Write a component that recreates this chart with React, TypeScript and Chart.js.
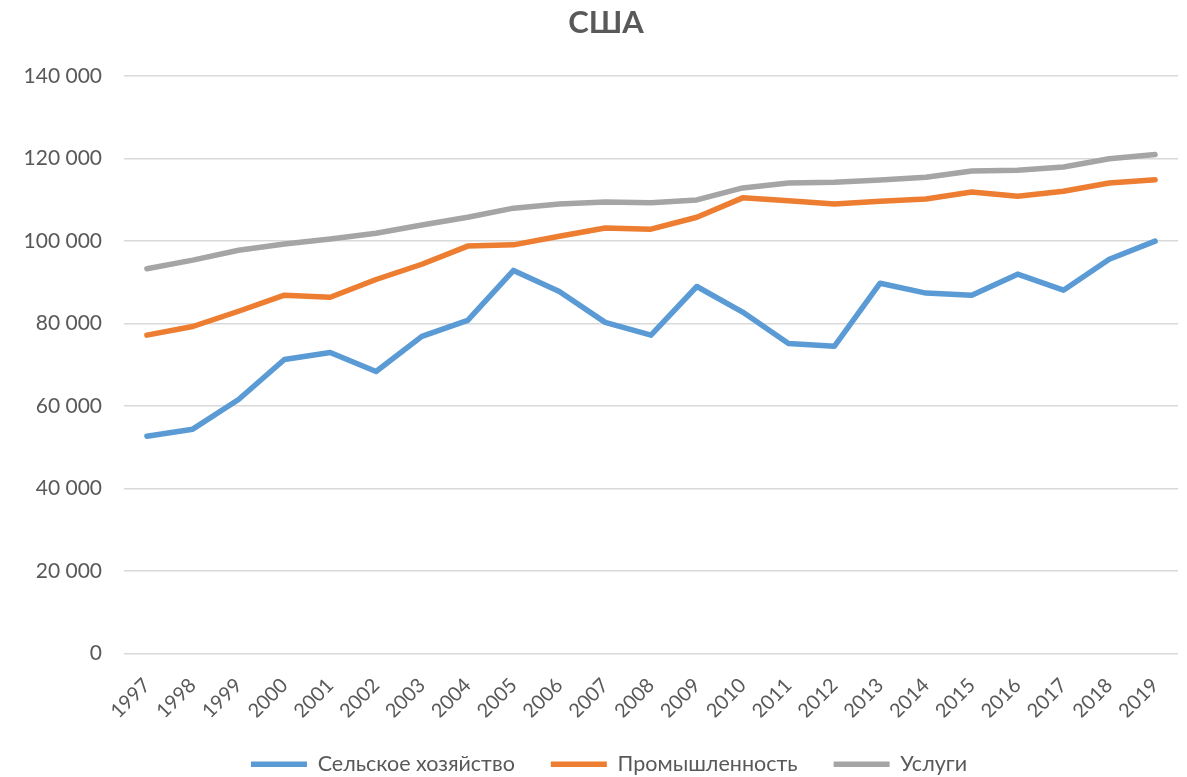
import React, { useEffect, useRef } from "react";
import { Chart, registerables } from "chart.js";

Chart.register(...registerables);

const years = ["1997","1998","1999","2000","2001","2002","2003","2004","2005","2006","2007","2008","2009","2010","2011","2012","2013","2014","2015","2016","2017","2018","2019"];
const agriculture = [52700, 54400, 61600, 71300, 73000, 68400, 76900, 80800, 92900, 87800, 80300, 77200, 89000, 82800, 75200, 74500, 89800, 87400, 86900, 92000, 88100, 95600, 100000];
const industry = [77200, 79300, 83000, 86900, 86400, 90700, 94400, 98800, 99100, 101200, 103200, 102900, 105800, 110500, 109800, 109000, 109700, 110200, 111900, 110900, 112100, 114100, 114900];
const services = [93300, 95400, 97800, 99300, 100500, 101900, 103900, 105800, 108000, 109000, 109500, 109300, 110000, 112900, 114100, 114300, 114800, 115500, 117000, 117200, 118000, 120000, 121000];
const seriesNames = ["Сельское хозяйство", "Промышленность", "Услуги"];
const yTicks = [0, 20000, 40000, 60000, 80000, 100000, 120000, 140000];

const FONT = "Lato, 'Noto Sans', sans-serif";
const GREY_TEXT = "#595959";

function fmt(v: number): string {
  const s = Math.round(v).toString();
  return s.replace(/\B(?=(\d{3})+(?!\d))/g, " ");
}

const shiftBoxes = {
  id: "shiftBoxes",
  afterLayout(chart: any) {
    if (chart.titleBlock) {
      chart.titleBlock.left += 17;
      chart.titleBlock.right += 17;
    }
    if (chart.legend) {
      chart.legend.left += 20;
      chart.legend.right += 20;
    }
  },
};

export default function App() {
  const ref = useRef<HTMLCanvasElement | null>(null);
  useEffect(() => {
    document.body.style.margin = "0";
    const ctx = ref.current!;
    const mk = (label: string, data: number[], color: string) => ({
      label,
      data,
      borderColor: color,
      backgroundColor: color,
      borderWidth: 5.5,
      pointRadius: 0,
      borderCapStyle: "round" as const,
      borderJoinStyle: "round" as const,
      tension: 0,
    });
    const chart = new Chart(ctx, {
      type: "line",
      data: {
        labels: years,
        datasets: [
          mk(seriesNames[0], agriculture, "#5B9BD5"),
          mk(seriesNames[1], industry, "#ED7D31"),
          mk(seriesNames[2], services, "#A5A5A5"),
        ],
      },
      plugins: [shiftBoxes],
      options: {
        animation: false,
        responsive: false,
        maintainAspectRatio: false,
        layout: { padding: { left: 0, right: 9, top: 4, bottom: -8 } },
        plugins: {
          title: {
            display: true,
            text: "США",
            color: GREY_TEXT,
            font: { family: FONT, size: 31, weight: "bold", lineHeight: 1.2 },
            padding: { top: 0, bottom: 35 },
          },
          legend: {
            position: "bottom",
            labels: {
              color: GREY_TEXT,
              font: { family: FONT, size: 21.5 },
              usePointStyle: true,
              pointStyle: "line",
              pointStyleWidth: 56,
              padding: 36,
            },
          },
          tooltip: { enabled: false },
        },
        scales: {
          x: {
            offset: true,
            afterFit: (scale: any) => {
              scale.height = 64;
            },
            grid: { display: false },
            border: { display: false },
            ticks: {
              color: GREY_TEXT,
              font: { family: FONT, size: 20 },
              minRotation: 45,
              maxRotation: 45,
              autoSkip: false,
              padding: 12,
            },
          },
          y: {
            min: 0,
            max: 140000,
            afterFit: (scale: any) => {
              scale.width = 124;
            },
            afterBuildTicks: (scale: any) => {
              scale.ticks = yTicks.map((v) => ({ value: v }));
            },
            grid: { color: "#D9D9D9", lineWidth: 1.5, drawTicks: false },
            border: { display: false },
            ticks: {
              color: GREY_TEXT,
              font: { family: FONT, size: 21 },
              padding: 22,
              callback: (v: any) => fmt(Number(v)),
            },
          },
        },
      },
    });
    return () => chart.destroy();
  }, []);
  return (
    <div style={{ width: 1187, height: 777 }}>
      <canvas ref={ref} width={1187} height={777} style={{ display: "block" }} />
    </div>
  );
}
